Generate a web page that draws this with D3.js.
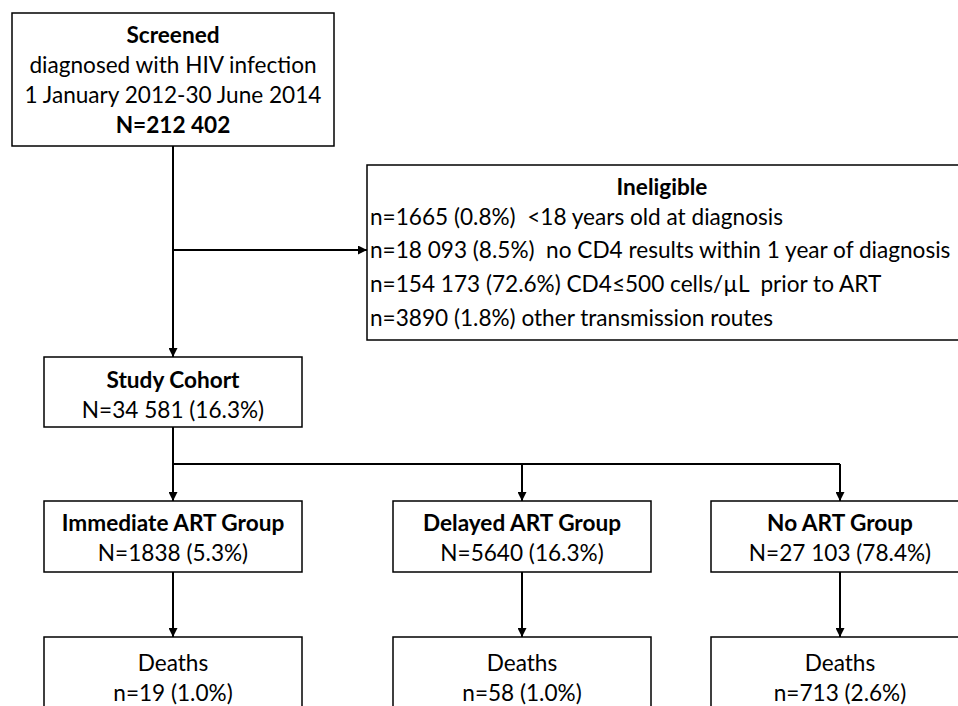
<!DOCTYPE html>
<html>
<head>
<meta charset="utf-8">
<script src="https://cdn.jsdelivr.net/npm/d3@7"></script>
<style>
  html, body { margin: 0; padding: 0; background: #fff; }
  svg { display: block; }
  text { font-family: Lato, "Open Sans", sans-serif; fill: #000; white-space: pre; }
</style>
</head>
<body>
<div id="chart"></div>
<script>
(function() {

  // text of the flow chart
  var screenedTitle = "Screened";
  var screenedLines = ["diagnosed with HIV infection", "1 January 2012-30 June 2014"];
  var screenedTotal = "N=212 402";

  var ineligibleTitle = "Ineligible";
  var ineligibleLines = [
    "n=1665 (0.8%)  <18 years old at diagnosis",
    "n=18 093 (8.5%)  no CD4 results within 1 year of diagnosis",
    "n=154 173 (72.6%) CD4\u2264500 cells/\u00b5L  prior to ART",
    "n=3890 (1.8%) other transmission routes"
  ];

  var cohortTitle = "Study Cohort";
  var cohortTotal = "N=34 581 (16.3%)";

  var groupNames = ["Immediate ART Group", "Delayed ART Group", "No ART Group"];
  var groupTotals = ["N=1838 (5.3%)", "N=5640 (16.3%)", "N=27 103 (78.4%)"];
  var deathLabel = "Deaths";
  var deathCounts = ["n=19 (1.0%)", "n=58 (1.0%)", "n=713 (2.6%)"];

  // layout
  var width = 958, height = 706;
  var colCenter = [173, 522, 840];
  var boxW = 258;
  var lineGap = 30;
  var fontSize = 22.6;

  var svg = d3.select("#chart")
    .append("svg")
    .attr("width", width)
    .attr("height", height);

  svg.append("defs").append("marker")
    .attr("id", "arrow")
    .attr("viewBox", "0 0 10 10")
    .attr("refX", 10).attr("refY", 5)
    .attr("markerWidth", 4.5).attr("markerHeight", 4.5)
    .attr("markerUnits", "strokeWidth")
    .attr("orient", "auto")
    .append("path")
    .attr("d", "M0,0L10,5L0,10Z")
    .attr("fill", "#000");

  function box(x, y, w, h) {
    svg.append("rect")
      .attr("x", x).attr("y", y)
      .attr("width", w).attr("height", h)
      .attr("fill", "#fff")
      .attr("stroke", "#000")
      .attr("stroke-width", 1.5);
  }

  function label(x, y, str, bold, anchor) {
    return svg.append("text")
      .attr("x", x).attr("y", y)
      .attr("text-anchor", anchor || "middle")
      .attr("dominant-baseline", "central")
      .attr("font-size", fontSize)
      .attr("font-weight", bold ? "bold" : "normal")
      .text(str);
  }

  function line(pts, arrow) {
    var l = svg.append("path")
      .attr("d", d3.line()(pts))
      .attr("fill", "none")
      .attr("stroke", "#000")
      .attr("stroke-width", 2);
    if (arrow) l.attr("marker-end", "url(#arrow)");
  }

  // connectors first so boxes sit on top
  line([[colCenter[0], 146], [colCenter[0], 357]], true);
  line([[colCenter[0], 250], [367, 250]], true);
  line([[colCenter[0], 427], [colCenter[0], 464], [colCenter[2], 464]], false);
  colCenter.forEach(function(cx) {
    line([[cx, 464], [cx, 501]], true);
    line([[cx, 572], [cx, 637]], true);
  });

  // screened
  box(12, 13, 322, 133);
  label(colCenter[0], 34, screenedTitle, true);
  screenedLines.forEach(function(s, i) {
    label(colCenter[0], 64 + i * lineGap, s, false);
  });
  label(colCenter[0], 124, screenedTotal, true);

  // ineligible
  box(367, 165, 620, 175);
  label(662, 186, ineligibleTitle, true);
  ineligibleLines.forEach(function(s, i) {
    var t = label(370, 216 + i * 33.7, s, false, "start");
    // keep the long line inside the page edge
    var w = t.node().getComputedTextLength();
    if (370 + w > width - 2) {
      t.attr("textLength", width - 2 - 370).attr("lengthAdjust", "spacingAndGlyphs");
    }
  });

  // study cohort
  box(colCenter[0] - boxW / 2, 357, boxW, 70);
  label(colCenter[0], 379, cohortTitle, true);
  label(colCenter[0], 409, cohortTotal, false);

  // groups and deaths
  groupNames.forEach(function(g, i) {
    var cx = colCenter[i];
    box(cx - boxW / 2, 501, boxW, 71);
    label(cx, 522, g, true);
    label(cx, 552, groupTotals[i], false);

    box(cx - boxW / 2, 637, boxW, 90);
    label(cx, 662, deathLabel, false);
    label(cx, 692, deathCounts[i], false);
  });

})();
</script>
</body>
</html>
